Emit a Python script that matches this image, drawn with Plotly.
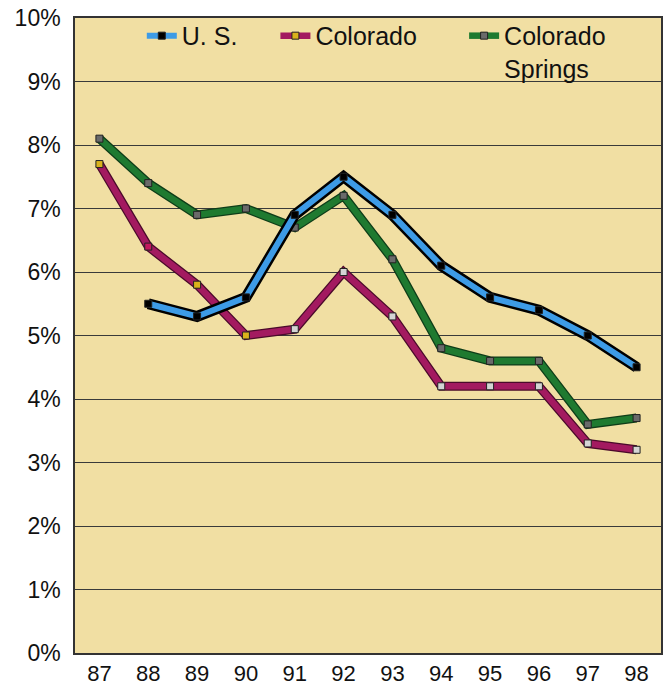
import plotly.graph_objects as go

years = ["87", "88", "89", "90", "91", "92", "93", "94", "95", "96", "97", "98"]
x_vals = [87, 88, 89, 90, 91, 92, 93, 94, 95, 96, 97, 98]
us = [None, 5.5, 5.3, 5.6, 6.9, 7.5, 6.9, 6.1, 5.6, 5.4, 5.0, 4.5]
colorado = [7.7, 6.4, 5.8, 5.0, 5.1, 6.0, 5.3, 4.2, 4.2, 4.2, 3.3, 3.2]
co_springs = [8.1, 7.4, 6.9, 7.0, 6.7, 7.2, 6.2, 4.8, 4.6, 4.6, 3.6, 3.7]

y_ticks = [0, 1, 2, 3, 4, 5, 6, 7, 8, 9, 10]

colorado_marker_colors = ["#d9b21c", "#c2185e", "#d9b21c", "#d9b21c", "#d4d4d4", "#d4d4d4",
                          "#d4d4d4", "#d4d4d4", "#d4d4d4", "#d4d4d4", "#d4d4d4", "#d4d4d4"]

fig = go.Figure()

# (name, values, color, outline color, outline width, inner width, marker color, legend id)
series = [
    ("Colorado<br>Springs", co_springs, "#1f7a30", "#0f3d18", 9, 6.5, "#6a6a6a", "legend3"),
    ("Colorado", colorado, "#a31a60", "#4a0a2a", 9, 6.5, colorado_marker_colors, "legend2"),
    ("U. S.", us, "#3d9be6", "#000000", 11, 6, "#000000", "legend"),
]

for name, vals, col, outline, ow, iw, mcol, lg in series:
    fig.add_trace(go.Scatter(
        x=x_vals, y=vals, mode="lines", showlegend=False, hoverinfo="skip",
        line=dict(color=outline, width=ow), connectgaps=False))
    fig.add_trace(go.Scatter(
        x=x_vals, y=vals, mode="lines+markers", name=name, legend=lg,
        line=dict(color=col, width=iw),
        marker=dict(symbol="square", size=7, color=mcol, line=dict(color="#222222", width=1))))

leg_common = dict(orientation="v", y=1.008, xanchor="left", yanchor="top",
                  bgcolor="rgba(0,0,0,0)", font=dict(size=25, color="#111111"),
                  itemwidth=30, valign="top")

fig.update_layout(
    width=668, height=691,
    margin=dict(l=75, r=5, t=16, b=32),
    paper_bgcolor="white",
    plot_bgcolor="#f1dfa3",
    font=dict(family="Liberation Sans, Arial, sans-serif", size=20, color="#111111"),
    legend=dict(x=0.114, **leg_common),
    legend2=dict(x=0.342, **leg_common),
    legend3=dict(x=0.664, **leg_common),
    xaxis=dict(range=[86.5, 98.5], tickmode="array", tickvals=x_vals, ticktext=years,
               showgrid=False, showline=True, linecolor="#333333", linewidth=1.5,
               mirror=True, ticks="", zeroline=False, tickfont=dict(size=22)),
    yaxis=dict(range=[0, 10], tickmode="array", tickvals=y_ticks,
               ticktext=[f"{v}%" for v in y_ticks],
               showgrid=True, gridcolor="#3a3a3a", gridwidth=1,
               showline=True, linecolor="#333333", linewidth=1.5, mirror=True,
               ticks="", zeroline=False, tickfont=dict(size=23), ticklabelstandoff=8),
)

fig.write_html("out.html", config={"displayModeBar": False},
               post_script="document.body.style.margin='0';document.body.style.padding='0';")
